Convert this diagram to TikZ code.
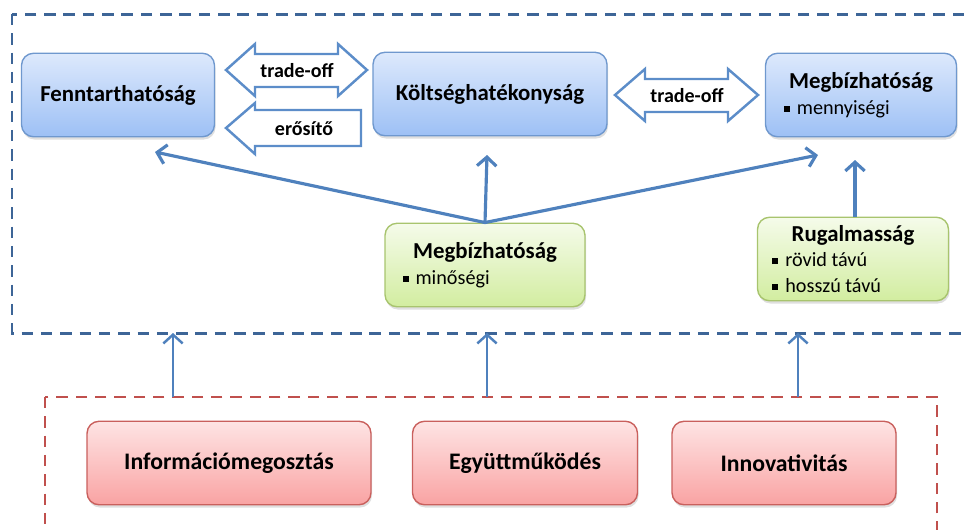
\documentclass[tikz,border=0pt]{standalone}
\usepackage{fontspec}
\setmainfont{Carlito}
\usetikzlibrary{arrows.meta,shadows}
\definecolor{bluetop}{HTML}{DDE9FC}
\definecolor{bluebot}{HTML}{9DC0F5}
\definecolor{bluedraw}{HTML}{6F98CE}
\definecolor{greentop}{HTML}{F5FBEA}
\definecolor{greenbot}{HTML}{D2EDA0}
\definecolor{greendraw}{HTML}{A8C46E}
\definecolor{redtop}{HTML}{FEE4E4}
\definecolor{redbot}{HTML}{F9A3A3}
\definecolor{reddraw}{HTML}{C9605D}
\definecolor{arrowblue}{HTML}{4F81BD}
\definecolor{blockblue}{HTML}{5C8DC9}
\definecolor{framblue}{HTML}{3D6597}
\definecolor{framred}{HTML}{C0504D}
\newcommand{\bul}{\rule[1.6pt]{3.4pt}{3.4pt}\hspace{4pt}}

\begin{document}
\begin{tikzpicture}[x=0.02cm,y=-0.02cm,>={Straight Barb[length=5pt,width=11pt]},
    box/.style={rounded corners=0.24cm,draw,line width=0.8pt,minimum height=1.67cm,
        font=\fontsize{13}{15}\selectfont,
        drop shadow={opacity=0.25,shadow xshift=0.6pt,shadow yshift=-1.6pt}},
    blue box/.style={box,draw=bluedraw,top color=bluetop,bottom color=bluebot},
    green box/.style={box,draw=greendraw,top color=greentop,bottom color=greenbot,align=left},
    red box/.style={box,draw=reddraw,top color=redtop,bottom color=redbot,font=\fontsize{13.5}{15}\selectfont},
    frame/.style={draw,line width=1.7pt,dash pattern=on 6.5pt off 4.5pt},
    link/.style={->,draw=arrowblue,line width=1.8pt},
    uplink/.style={->,draw=arrowblue,line width=1.4pt},
    block/.style={draw=blockblue,line width=1.4pt,fill=white},
    blocktext/.style={font=\fontsize{11.4}{13}\selectfont\bfseries}]

    \useasboundingbox (0,0) rectangle (966,529);
    \clip (0,0) rectangle (966,529);

    % frames
    \draw[frame,framblue] (12,14) rectangle (1000,333);
    \draw[frame,framred,line width=1.5pt] (45,397) rectangle (937,560);

    % top row
    \node[blue box,minimum width=3.86cm] (1) at (118,95) {\textbf{Fenntarthatóság}};
    \node[blue box,minimum width=4.68cm] (2) at (490,94) {\textbf{Költséghatékonyság}};
    \node[blue box,minimum width=3.82cm,align=left,font=\fontsize{11.5}{15}\selectfont] (3) at (861,95)
        {\fontsize{13}{15}\selectfont\textbf{Megbízhatóság}\\\hspace*{-3pt}\bul mennyiségi};

    % middle row
    \node[green box,minimum width=4.0cm,font=\fontsize{11.5}{15}\selectfont] (4) at (485,265)
        {\fontsize{13}{15}\selectfont\textbf{Megbízhatóság}\\\hspace*{-6pt}\bul minőségi};
    \node[green box,minimum width=3.82cm,font=\fontsize{11.5}{14.5}\selectfont] (5) at (853,259)
        {\fontsize{13}{15}\selectfont\textbf{Rugalmasság}\\\hspace*{-11pt}\bul rövid távú\\\hspace*{-11pt}\bul hosszú távú};

    % bottom row
    \node[red box,minimum width=5.68cm] (6) at (229,463) {\textbf{Információmegosztás}};
    \node[red box,minimum width=4.5cm] (7) at (525,463) {\textbf{Együttműködés}};
    \node[red box,minimum width=4.48cm] (8) at (784,463) {\textbf{Innovativitás}};

    % block arrows
    \draw[block] (226,70) -- (255,44) -- (255,54) -- (338,54) -- (338,44) -- (367,70)
        -- (338,96) -- (338,87) -- (255,87) -- (255,96) -- cycle;
    \node[blocktext] (t1) at (297,71) {trade-off};
    \draw[block] (226,128) -- (255,103) -- (255,110) -- (361,110) -- (361,146)
        -- (255,146) -- (255,154) -- cycle;
    \node[blocktext] (t2) at (304,129) {erősítő};
    \draw[block] (615,95) -- (645,69) -- (645,79) -- (728,79) -- (728,69) -- (758,95)
        -- (728,121) -- (728,112) -- (645,112) -- (645,121) -- cycle;
    \node[blocktext] (t3) at (687,96) {trade-off};

    % arrow ends
    \coordinate (1a) at (155,152);
    \coordinate (2a) at (487,155);
    \coordinate (3a) at (818,155);
    \coordinate (3b) at (855,160);
    \coordinate (a1) at (173,397);
    \coordinate (b1) at (173,333);
    \coordinate (a2) at (487,397);
    \coordinate (b2) at (487,333);
    \coordinate (a3) at (798,397);
    \coordinate (b3) at (798,333);

    \draw[link] (4.north) -- (1a);
    \draw[link] (4.north) -- (2a);
    \draw[link] (4.north) -- (3a);
    \draw[link] (5.north -| 3b) -- (3b);
    \draw[uplink] (a1) -- (b1);
    \draw[uplink] (a2) -- (b2);
    \draw[uplink] (a3) -- (b3);
\end{tikzpicture}
\end{document}
